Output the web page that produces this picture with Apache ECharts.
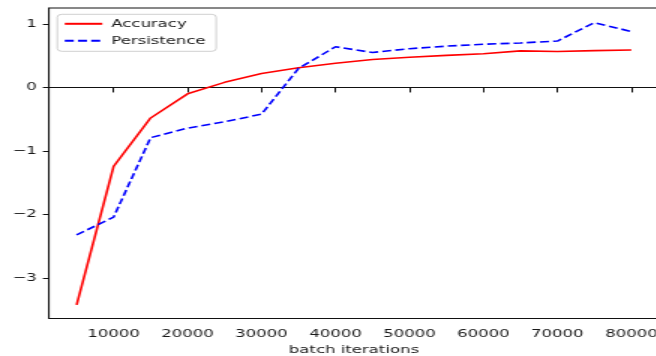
<!DOCTYPE html>
<html>
<head>
<meta charset="utf-8">
<script src="https://cdn.jsdelivr.net/npm/echarts@6/dist/echarts.min.js"></script>
<style>
  html, body { margin: 0; padding: 0; background: #fff; }
  #wrap { width: 656px; height: 356px; overflow: hidden; position: relative; }
  #chart { width: 438px; height: 356px; transform: scaleX(1.5); transform-origin: 0 0; }
</style>
</head>
<body>
<div id="wrap"><div id="chart"></div></div>
<script>
const xValues = [5000, 10000, 15000, 20000, 25000, 30000, 35000, 40000, 45000, 50000, 55000, 60000, 65000, 70000, 75000, 80000];
const accuracy = [-3.42, -1.24, -0.48, -0.10, 0.08, 0.22, 0.31, 0.38, 0.44, 0.475, 0.505, 0.53, 0.575, 0.565, 0.58, 0.59];
const persistence = [-2.32, -2.04, -0.79, -0.64, -0.54, -0.42, 0.30, 0.64, 0.55, 0.61, 0.65, 0.68, 0.70, 0.73, 1.02, 0.88];
const xTicks = [10000, 20000, 30000, 40000, 50000, 60000, 70000, 80000];
const yTicks = [-3, -2, -1, 0, 1];
const seriesNames = ['Accuracy', 'Persistence'];

const chart = echarts.init(document.getElementById('chart'), null, { renderer: 'canvas' });
const font = 'DejaVu Sans';
const fmtY = v => (v < 0 ? '\u2212' + Math.abs(v) : String(v));

chart.setOption({
  backgroundColor: '#fff',
  animation: false,
  textStyle: { fontFamily: font },
  grid: {
    left: 32.6, top: 8, width: 406.8, height: 310.5,
    outerBoundsMode: 'none', containLabel: false,
    show: true, borderColor: '#111', borderWidth: 1, backgroundColor: 'transparent'
  },
  legend: {
    orient: 'vertical',
    left: 38.2, top: 14.3,
    data: seriesNames,
    itemWidth: 25, itemHeight: 12, itemGap: 6,
    padding: [4, 7, 5, 4],
    backgroundColor: '#fff',
    borderColor: '#d0d0d0', borderWidth: 1, borderRadius: 3,
    itemStyle: { opacity: 0 },
    textStyle: { fontFamily: font, fontSize: 11, color: '#1a1a1a', padding: [0, 0, 0, 1] }
  },
  xAxis: {
    type: 'value', min: 1250, max: 83750,
    name: 'batch iterations', nameLocation: 'middle', nameGap: 26,
    nameTextStyle: { fontFamily: font, fontSize: 11, color: '#1a1a1a' },
    axisLine: { show: true, lineStyle: { color: '#111', width: 1 } },
    axisTick: { show: true, length: 5, lineStyle: { color: '#111', width: 1 }, customValues: xTicks },
    axisLabel: { fontFamily: font, fontSize: 11, color: '#1a1a1a', margin: 10, customValues: xTicks, formatter: v => String(v) },
    splitLine: { show: false }
  },
  yAxis: {
    type: 'value', min: -3.635, max: 1.25,
    axisLine: { show: true, lineStyle: { color: '#111', width: 1 } },
    axisTick: { show: true, length: 4, lineStyle: { color: '#111', width: 1 }, customValues: yTicks },
    axisLabel: { fontFamily: font, fontSize: 11, color: '#1a1a1a', margin: 8, customValues: yTicks, formatter: fmtY },
    splitLine: { show: false }
  },
  series: [
    {
      name: seriesNames[0], type: 'line', symbol: 'none',
      data: xValues.map((x, i) => [x, accuracy[i]]),
      lineStyle: { color: '#ff0000', width: 1.6 },
      itemStyle: { color: '#ff0000' }
    },
    {
      name: seriesNames[1], type: 'line', symbol: 'none',
      data: xValues.map((x, i) => [x, persistence[i]]),
      lineStyle: { color: '#0000ff', width: 1.6, type: [6, 2.8] },
      itemStyle: { color: '#0000ff' }
    }
  ]
});
</script>
</body>
</html>
